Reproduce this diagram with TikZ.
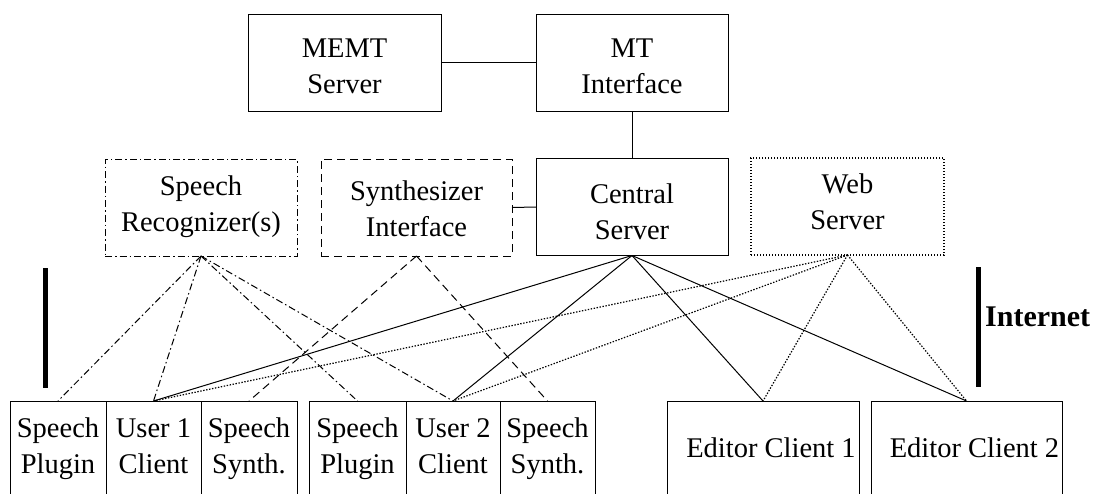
\documentclass[tikz,border=0pt]{standalone}
\usepackage{fontspec}
\setmainfont{Liberation Serif}
\newcommand{\mytab}[1]{\begin{tabular}[t]{@{}c@{}}#1\end{tabular}}
\begin{document}
\begin{tikzpicture}[x=1pt,y=-1pt,
  box/.style={draw, line width=1pt, inner sep=0pt, outer sep=0pt,
    font=\fontsize{28.5}{36}\selectfont, text height=20pt},
  big/.style={box, minimum width=192pt, minimum height=97pt},
  low/.style={box, minimum height=94pt},
  dashdot/.style={line width=1pt, dash pattern=on 7pt off 3pt on 1.5pt off 3pt},
  dashline/.style={line width=1pt, dash pattern=on 8pt off 5pt},
  dotline/.style={line width=1.2pt, dash pattern=on 1.4pt off 1.6pt},
  solidline/.style={line width=1pt},
  bar/.style={line width=5pt}
]
\path[use as bounding box, clip] (0,0) rectangle (1093,493);

% top row
\node[big, text depth=30pt, minimum width=193pt] (memt) at (344.5,62.5) {\mytab{MEMT\\Server}};
\node[big, text depth=30pt] (mt) at (632,62.5) {\mytab{MT\\Interface}};
% middle row
\node[big, dashdot, text depth=45pt] (rec) at (201,207.5) {\mytab{Speech\\Recognizer(s)}};
\node[big, dashline, text depth=35pt, minimum width=191pt] (syn) at (416.5,207.5) {\mytab{Synthesizer\\Interface}};
\node[big, text depth=28pt] (cen) at (632,207) {\mytab{Central\\Server}};
\node[big, dotline, text depth=47pt, minimum width=193pt] (web) at (847.5,206.5) {\mytab{Web\\Server}};
% bottom row
\node[low, text depth=42pt, minimum width=96pt] (p1) at (58,448) {\mytab{Speech\\Plugin}};
\node[low, text depth=42pt, minimum width=95pt] (u1) at (153.5,448) {\mytab{User 1\\Client}};
\node[low, text depth=42pt, minimum width=96pt] (s1) at (249,448) {\mytab{Speech\\Synth.}};
\node[low, text depth=42pt, minimum width=97pt] (p2) at (357.5,448) {\mytab{Speech\\Plugin}};
\node[low, text depth=42pt, minimum width=94pt] (u2) at (453,448) {\mytab{User 2\\Client}};
\node[low, text depth=42pt, minimum width=95pt] (s2) at (547.5,448) {\mytab{Speech\\Synth.}};
\node[low, text depth=2pt, minimum width=192pt] (e1) at (763,448) {\hspace*{16pt}Editor Client 1};
\node[low, text depth=2pt, minimum width=191pt] (e2) at (966.5,448) {\hspace*{16pt}Editor Client 2};

% top connections
\draw[solidline] (memt.east) -- (mt.west);
\draw[solidline] (mt.south) -- (cen.north);
\draw[solidline] (syn.east) -- (cen.west);

% recognizer
\draw[dashdot] (rec.south) -- (p1.north);
\draw[dashdot] (rec.south) -- (u1.north);
\draw[dashdot] (rec.south) -- (p2.north);
\draw[dashdot] (rec.south) -- (u2.north);
% synthesizer
\draw[dashline] (syn.south) -- (s1.north);
\draw[dashline] (syn.south) -- (s2.north);
% central
\draw[solidline] (cen.south) -- (u1.north);
\draw[solidline] (cen.south) -- (u2.north);
\draw[solidline] (cen.south) -- (e1.north);
\draw[solidline] (cen.south) -- (e2.north);
% web
\draw[dotline] (web.south) -- (u1.north);
\draw[dotline] (web.south) -- (u2.north);
\draw[dotline] (web.south) -- (e1.north);
\draw[dotline] (web.south) -- (e2.north);

% internet bars
\draw[bar] (45,268) -- (45,388);
\draw[bar] (978,267) -- (978,387);
\node[anchor=base west, inner sep=0pt, font=\fontsize{30}{36}\selectfont\bfseries] (inet) at (985,326) {Internet};
\end{tikzpicture}
\end{document}
